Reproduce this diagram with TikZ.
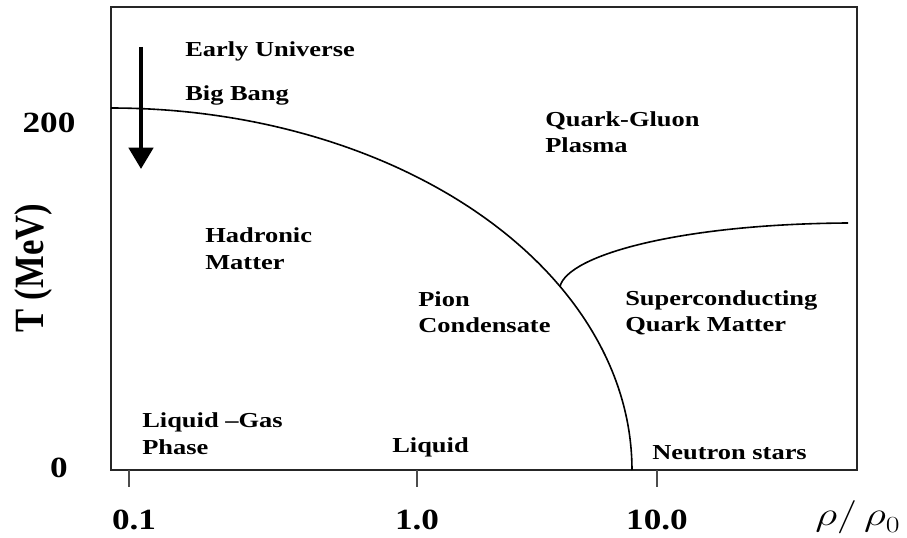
\documentclass[tikz,border=0pt]{standalone}
\usepackage{fontspec}
\setmainfont{Liberation Serif}[FakeStretch=1.24]
\newfontfamily\tickfont{Liberation Serif}[FakeStretch=1.2]
\newfontfamily\plainserif{Liberation Serif}
\usetikzlibrary{arrows.meta}
\begin{document}
\begin{tikzpicture}[x=0.75pt,y=-0.75pt,
  region/.style={anchor=base west, inner sep=0pt, font=\fontsize{16}{19}\selectfont\bfseries},
  ticklab/.style={anchor=base, inner sep=0pt, font=\tickfont\fontsize{22}{26}\selectfont\bfseries},
  frame/.style={line width=1.5pt, draw=black!85},
  tickmark/.style={line width=1.5pt, draw=black!70},
  boundary/.style={line width=1.2pt},
  bigarrow/.style={line width=3.4pt, -{Triangle[width=18pt,length=16pt]}},
]
\useasboundingbox (0,0) rectangle (907,538);
% frame
\draw[frame] (111,7) rectangle (857,470);
% ticks
\coordinate (t1a) at (129,470); \coordinate (t1b) at (129,487);
\coordinate (t2a) at (417,470); \coordinate (t2b) at (417,487);
\coordinate (t3a) at (657,470); \coordinate (t3b) at (657,487);
\draw[tickmark] (t1a) -- (t1b);
\draw[tickmark] (t2a) -- (t2b);
\draw[tickmark] (t3a) -- (t3b);
% tick labels
\node[ticklab] (x1) at (134,529) {0.1};
\node[ticklab] (x2) at (417,529) {1.0};
\node[ticklab] (x3) at (657,529) {10.0};
\node[ticklab] (y200) at (49,133) {200};
\node[ticklab] (y0) at (59,477) {0};
% axis titles
\node[inner sep=0pt] (ytitle) at (33,268) {\scalebox{1.2}[1]{\rotatebox{90}{\plainserif\fontsize{26}{30}\selectfont\bfseries T (MeV)}}};
\node[inner sep=0pt] (xtitle) at (858,517) {\scalebox{1.3}[1]{\fontsize{26}{30}\selectfont$\rho/\,\rho_{\raisebox{-2pt}{$\scriptstyle 0$}}$}};
% phase boundary
\draw[boundary] plot[domain=0:90, samples=80, smooth] ({111+521*cos(\x)}, {470-362*sin(\x)});
\coordinate (j) at (560,286.4);
\coordinate (cend) at (848,223);
\draw[boundary] (j) .. controls (568,255) and (680,224) .. (cend);
% arrow
\coordinate (as) at (141,47);
\coordinate (ae) at (141,169);
\draw[bigarrow] (as) -- (ae);
% region labels
\node[region] (eu) at (185,57) {Early Universe};
\node[region] (bb) at (185,101) {Big Bang};
\node[region] (qg1) at (545,127) {Quark-Gluon};
\node[region] (qg2) at (545,153) {Plasma};
\node[region] (hm1) at (205,243) {Hadronic};
\node[region] (hm2) at (205,270) {Matter};
\node[region] (pc1) at (418,307) {Pion};
\node[region] (pc2) at (418,333) {Condensate};
\node[region] (sq1) at (625,306) {Superconducting};
\node[region] (sq2) at (625,332) {Quark Matter};
\node[region] (lg1) at (142,427) {Liquid –Gas};
\node[region] (lg2) at (142,454) {Phase};
\node[region] (lq) at (392,452) {Liquid};
\node[region] (ns) at (652,459) {Neutron stars};
\end{tikzpicture}
\end{document}
